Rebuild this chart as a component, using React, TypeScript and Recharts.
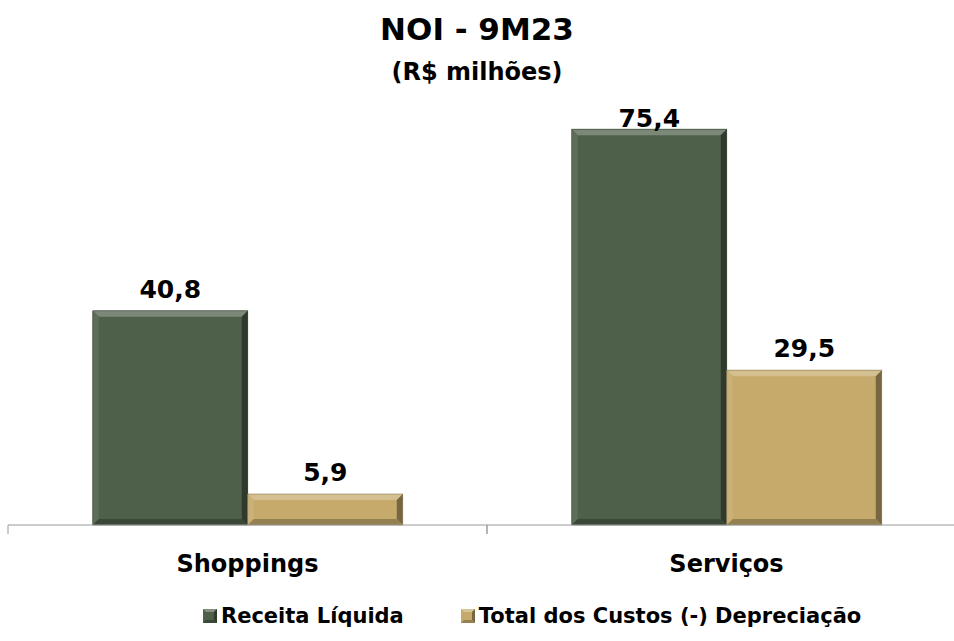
import React from "react";
import { BarChart, Bar, XAxis, YAxis, LabelList } from "recharts";

const categories = ["Shoppings", "Serviços"];
const receitaLiquida = [40.8, 75.4];
const totalCustos = [5.9, 29.5];
const seriesNames = ["Receita Líquida", "Total dos Custos (-) Depreciação"];
const title = "NOI - 9M23";
const subtitle = "(R$ milhões)";

const data = categories.map((c, i) => ({
  name: c,
  receita: receitaLiquida[i],
  custos: totalCustos[i],
}));

const FONT = "'DejaVu Sans', sans-serif";
const GREEN = "#4F604A";
const GOLD = "#C5AA6C";

function shade(hex: string, amt: number) {
  const n = parseInt(hex.slice(1), 16);
  let r = (n >> 16) & 255, g = (n >> 8) & 255, b = n & 255;
  const f = (v: number) => Math.max(0, Math.min(255, Math.round(amt >= 0 ? v + (255 - v) * amt : v * (1 + amt))));
  return `rgb(${f(r)},${f(g)},${f(b)})`;
}

const BevelBar = (props: any) => {
  const { x, y, width, height, fill } = props;
  if (!height || height <= 0) return null;
  const b = Math.min(6, height / 2, width / 2);
  return (
    <g>
      <rect x={x} y={y} width={width} height={height} fill={fill} />
      <polygon points={`${x},${y} ${x + width},${y} ${x + width - b},${y + b} ${x + b},${y + b}`} fill={shade(fill, 0.25)} />
      <polygon points={`${x},${y} ${x + b},${y + b} ${x + b},${y + height - b} ${x},${y + height}`} fill={shade(fill, 0.08)} />
      <polygon points={`${x + width},${y} ${x + width},${y + height} ${x + width - b},${y + height - b} ${x + width - b},${y + b}`} fill={shade(fill, -0.4)} />
      <polygon points={`${x},${y + height} ${x + width},${y + height} ${x + width - b},${y + height - b} ${x + b},${y + height - b}`} fill={shade(fill, -0.25)} />
      <rect x={x} y={y} width={width} height={height} fill="none" stroke={shade(fill, -0.3)} strokeWidth={0.6} />
    </g>
  );
};

const ValueLabel = (props: any) => {
  const { x, y, width, value } = props;
  const ty = Math.max(y - 13, 127);
  return (
    <text x={x + width / 2} y={ty} textAnchor="middle" fontFamily={FONT} fontWeight="bold" fontSize={25} fill="#000">
      {String(value).replace(".", ",")}
    </text>
  );
};

const CatTick = (props: any) => {
  const { x, y, payload } = props;
  const half = payload && payload.offset ? payload.offset : 239.5;
  return (
    <g>
      <line x1={x - half} y1={y - 8} x2={x - half} y2={y + 1} stroke="#9a9a9a" />
      <line x1={x + half} y1={y - 8} x2={x + half} y2={y + 1} stroke="#9a9a9a" />
      <text x={x} y={y + 39} textAnchor="middle" fontFamily={FONT} fontWeight="bold" fontSize={24} fill="#000">
        {payload.value}
      </text>
    </g>
  );
};

const LegendSwatch = ({ color }: { color: string }) => (
  <svg width={14} height={14} style={{ marginRight: 4 }}>
    <rect x={0} y={0} width={14} height={14} fill={color} />
    <polygon points="0,0 14,0 11,3 3,3" fill={shade(color, 0.3)} />
    <polygon points="14,0 14,14 11,11 11,3" fill={shade(color, -0.4)} />
    <polygon points="0,14 14,14 11,11 3,11" fill={shade(color, -0.25)} />
  </svg>
);

export default function App() {
  return (
    <div style={{ position: "fixed", left: 0, top: 0, width: 954, height: 641, background: "#fff" }}>
      <div style={{ position: "absolute", left: 0, top: 11, width: 954, textAlign: "center", fontFamily: FONT, fontWeight: "bold", fontSize: 31, color: "#000", lineHeight: "36px" }}>
        {title}
      </div>
      <div style={{ position: "absolute", left: 0, top: 58, width: 954, textAlign: "center", fontFamily: FONT, fontWeight: "bold", fontSize: 24, color: "#000", lineHeight: "28px" }}>
        {subtitle}
      </div>
      <BarChart
        width={954}
        height={641}
        data={data}
        margin={{ top: 105, right: -12, bottom: 66, left: 8 }}
        barCategoryGap="17.7%"
        barGap={0}
      >
        <XAxis
          dataKey="name"
          height={50}
          axisLine={{ stroke: "#9a9a9a" }}
          tickLine={false}
          tick={<CatTick />}
          interval={0}
        />
        <YAxis hide domain={[0, 80]} width={0} />
        <Bar dataKey="receita" fill={GREEN} shape={<BevelBar />} isAnimationActive={false}>
          <LabelList dataKey="receita" content={<ValueLabel />} />
        </Bar>
        <Bar dataKey="custos" fill={GOLD} shape={<BevelBar />} isAnimationActive={false}>
          <LabelList dataKey="custos" content={<ValueLabel />} />
        </Bar>
      </BarChart>
      <div style={{ position: "absolute", left: 203, top: 603, display: "flex", fontFamily: FONT, fontWeight: "bold", fontSize: 21, color: "#000", lineHeight: "26px" }}>
        {seriesNames.map((n, i) => (
          <div key={n} style={{ display: "flex", alignItems: "center", marginRight: i === 0 ? 57 : 0 }}>
            <LegendSwatch color={i === 0 ? GREEN : GOLD} />
            <span>{n}</span>
          </div>
        ))}
      </div>
    </div>
  );
}
